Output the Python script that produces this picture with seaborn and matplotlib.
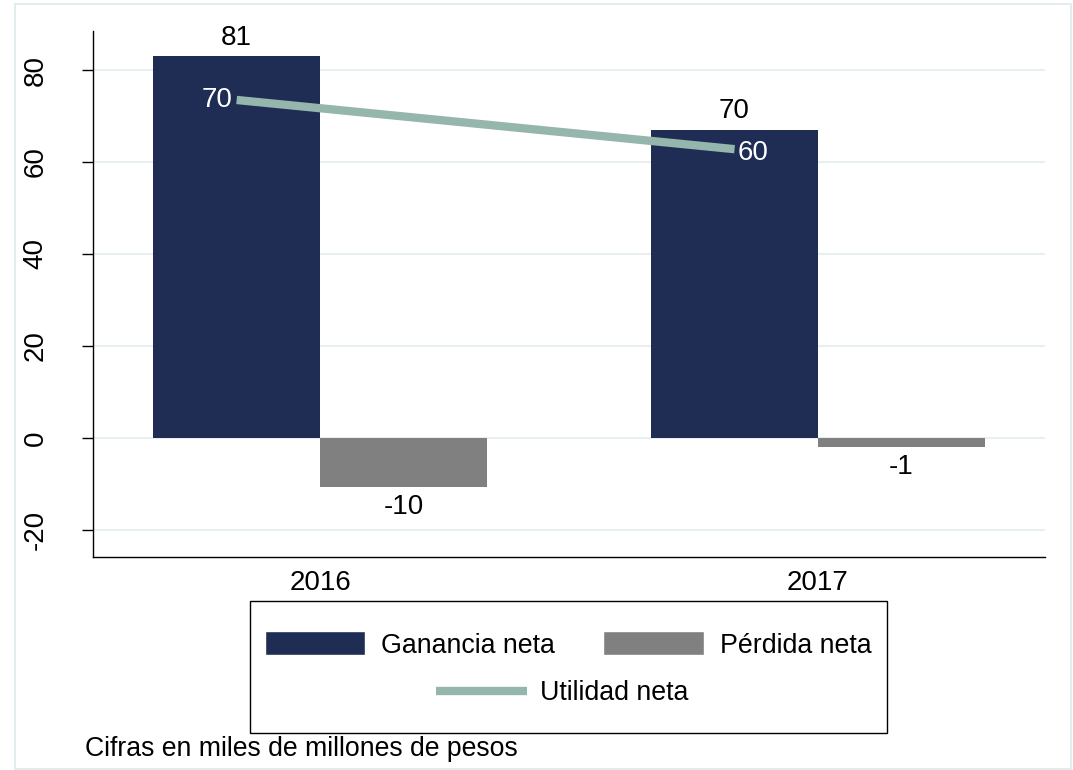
import numpy as np
import pandas as pd
import seaborn as sns
import matplotlib.pyplot as plt
from matplotlib.patches import Patch, Rectangle
from matplotlib.lines import Line2D

# values (miles de millones de pesos)
years = ['2016', '2017']
series = ['Ganancia neta', 'Pérdida neta']
ganancia = [83.0, 67.0]
perdida = [-10.6, -2.0]
utilidad = [73.5, 62.8]
ganancia_lbl = ['81', '70']
perdida_lbl = ['-10', '-1']
utilidad_lbl = ['70', '60']
y_ticks = [-20, 0, 20, 40, 60, 80]

navy, grey, sage, grid_col = '#1f2d54', '#808080', '#94b6ac', '#e8eff1'
W, H = 1073, 770
FS = 20

sns.set_style('white')
plt.rcParams['font.family'] = ['Liberation Sans', 'DejaVu Sans']
plt.rcParams['axes.unicode_minus'] = False
for k in ['text.color', 'xtick.color', 'ytick.color', 'axes.labelcolor']:
    plt.rcParams[k] = 'black'

df = pd.DataFrame({'year': years * 2,
                   'serie': [series[0]] * 2 + [series[1]] * 2,
                   'valor': ganancia + perdida})

fig = plt.figure(figsize=(W / 100, H / 100), dpi=100)
ax = fig.add_axes([93 / W, 1 - 557 / H, (1045 - 93) / W, (557 - 31) / H])

sns.barplot(data=df, x='year', y='valor', hue='serie', palette=[navy, grey],
            width=0.67, saturation=1, errorbar=None, legend=False, ax=ax,
            linewidth=0, zorder=2)

# line through the centre of the "Ganancia" bars
centers = [p.get_x() + p.get_width() / 2 for p in ax.containers[0]]
sns.lineplot(x=centers, y=utilidad, color=sage, lw=6, ax=ax, zorder=3)
for ln in ax.lines:
    ln.set_solid_capstyle('butt')

ax.bar_label(ax.containers[0], labels=ganancia_lbl, padding=4, fontsize=FS)
ax.bar_label(ax.containers[1], labels=perdida_lbl, padding=5, fontsize=FS)
for i, (x, y, t) in enumerate(zip(centers, utilidad, utilidad_lbl)):
    off, ha, dy = ((-3, 'right', 0) if i == 0 else (2, 'left', -3))
    ax.annotate(t, (x, y), xytext=(off, dy), textcoords='offset points',
                ha=ha, va='center', color='white', fontsize=FS, zorder=4)

ax.set_ylim(-25.9, 88.5)
ax.set_xlim(-0.456, 1.456)
ax.set_yticks(y_ticks)
ax.yaxis.grid(True, color=grid_col, lw=1.5)
ax.set_axisbelow(True)
ax.set_xlabel('')
ax.set_ylabel('')
for s in ['top', 'right']:
    ax.spines[s].set_visible(False)
for s in ['left', 'bottom']:
    ax.spines[s].set_color('black')
    ax.spines[s].set_linewidth(1)

ax.tick_params(axis='y', left=True, length=8, width=1, direction='out', pad=24,
               labelsize=FS, labelrotation=90)
for lab in ax.get_yticklabels():
    lab.set_va('center')
ax.tick_params(axis='x', length=0, pad=9, labelsize=FS)

# legend, Stata-like: two bars on the first row, line centred below
h1 = [Patch(facecolor=navy), Patch(facecolor=grey)]
fig.legend(h1, series, loc='center', bbox_to_anchor=(568 / W, 1 - 645 / H), ncol=2,
           frameon=False, fontsize=19.3, handlelength=3.75, handleheight=1.0,
           handletextpad=0.6, columnspacing=1.8)
fig.legend([Line2D([], [], color=sage, lw=6, solid_capstyle='butt')], ['Utilidad neta'],
           loc='center', bbox_to_anchor=(562 / W, 1 - 693 / H), frameon=False,
           fontsize=19.3, handlelength=3.4, handletextpad=0.5)
fig.add_artist(Rectangle((250 / W, 1 - 733 / H), (887 - 250) / W, (733 - 601) / H,
                         transform=fig.transFigure, fill=False, ec='black', lw=1))
fig.add_artist(Rectangle((15 / W, 1 / H), (1071 - 15) / W, (767 - 2) / H,
                         transform=fig.transFigure, fill=False, ec='#e3ecee', lw=1.5))

fig.text(85 / W, 1 - 749 / H, 'Cifras en miles de millones de pesos', fontsize=19.2,
         va='center', ha='left')

fig.savefig('out.png', dpi=100)
